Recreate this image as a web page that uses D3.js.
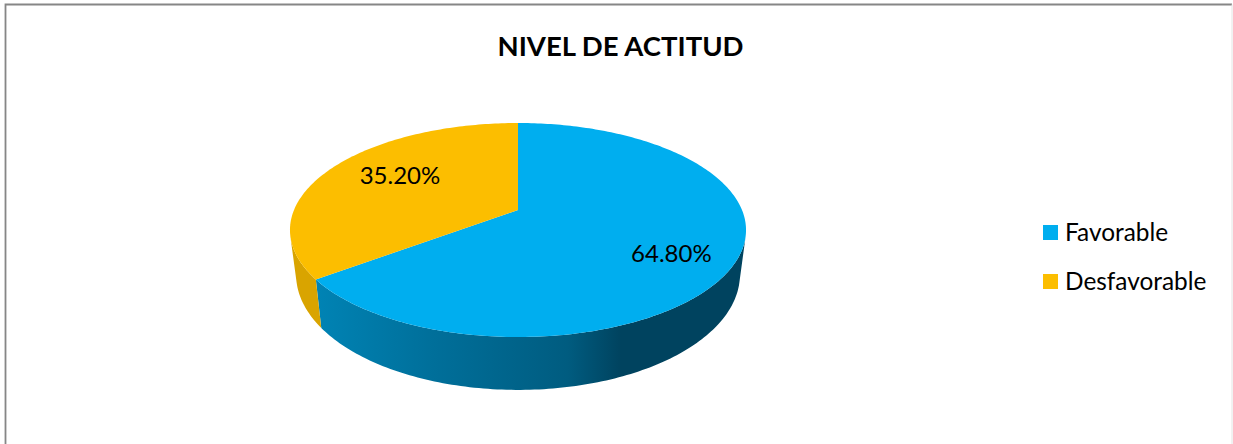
<!DOCTYPE html>
<html><head><meta charset="utf-8">
<script src="https://cdn.jsdelivr.net/npm/d3@7"></script>
<style>html,body{margin:0;padding:0;background:#fff}svg{display:block}text{font-family:Lato,"Open Sans",sans-serif;fill:#000}</style>
</head><body><svg id="c" width="1233" height="444"></svg>
<script>
const categories = ["Favorable", "Desfavorable"];
const values = [64.8, 35.2];
const valueLabels = ["64.80%", "35.20%"];
const topColors = ["#00AEEF", "#FCBE00"];
const sideStops = [
  [["#0086B8", 0], ["#006F9A", .3], ["#005C80", .6], ["#00435F", .72], ["#00435F", 1]],
  [["#D9A400", 0], ["#D9A400", 1]]
];

const svg = d3.select("#c");
const W = 1233, H = 444;

// frame
svg.append("path").attr("d", `M5.5 ${H}V4.5H${W - 1}`).attr("fill", "none").attr("stroke", "#868686").attr("stroke-width", 1.8);
svg.append("path").attr("d", `M${W - 1} 4.5V${H}`).attr("fill", "none").attr("stroke", "#E4E4E4").attr("stroke-width", 1);

svg.append("text").attr("x", 620.5).attr("y", 55.5).attr("text-anchor", "middle")
  .attr("font-size", 27.5).attr("font-weight", 700).text("NIVEL DE ACTITUD");

// perspective projection of the pie disc
const k = 0.187, cx = 518;
const planes = { top: { A: 210, B: -64, R: 224 }, bottom: { A: 253, B: -64, R: 218 } };
function project(angle, plane, f = 1) {
  const u = Math.sin(angle) * f, v = Math.cos(angle) * f, w = 1 + k * v;
  return [cx + plane.R * u / w, (plane.A + plane.B * v) / w];
}

const arcs = d3.pie().sort(null).value(d => d)(values);
const line = d3.line();
const defs = svg.append("defs");
const x0 = 300, x1 = 746;

arcs.forEach((a, i) => {
  const g = defs.append("linearGradient").attr("id", "side" + i)
    .attr("gradientUnits", "userSpaceOnUse").attr("x1", x0).attr("x2", x1).attr("y1", 0).attr("y2", 0);
  sideStops[i].forEach(s => g.append("stop").attr("offset", s[1]).attr("stop-color", s[0]));
});

// side wall: the outward-facing quads of each slice, joined into one path
const step = Math.PI / 180;
arcs.forEach((a, i) => {
  const n = Math.ceil((a.endAngle - a.startAngle) / step);
  const ang = d3.range(n + 1).map(j => a.startAngle + (a.endAngle - a.startAngle) * j / n);
  const quads = d3.pairs(ang)
    .map(([p, q]) => [project(p, planes.top), project(q, planes.top), project(q, planes.bottom), project(p, planes.bottom)])
    .filter(poly => d3.polygonArea(poly) > 0);
  svg.append("path").attr("d", quads.map(poly => line(poly) + "Z").join(""))
    .attr("fill", `url(#side${i})`);
});

// top faces
arcs.forEach((a, i) => {
  const n = Math.ceil((a.endAngle - a.startAngle) / step);
  const pts = d3.range(n + 1).map(j => project(a.startAngle + (a.endAngle - a.startAngle) * j / n, planes.top));
  svg.append("path").attr("d", line([project(0, planes.top, 0), ...pts]) + "Z").attr("fill", topColors[i]);
});

// value labels
const labelFraction = [0.72, 0.62], labelShift = [7.5, -8.5];
arcs.forEach((a, i) => {
  const [x, y] = project((a.startAngle + a.endAngle) / 2, planes.top, labelFraction[i]);
  svg.append("text").attr("x", x).attr("y", y + labelShift[i]).attr("text-anchor", "middle")
    .attr("dominant-baseline", "central").attr("font-size", 24).text(valueLabels[i]);
});

// legend
const legendY = d3.scalePoint().domain(categories).range([232.5, 281.5]);
categories.forEach((c, i) => {
  svg.append("rect").attr("x", 1043).attr("y", legendY(c) - 7.5).attr("width", 15).attr("height", 15).attr("fill", topColors[i]);
  svg.append("text").attr("x", 1065).attr("y", legendY(c) + 8.5).attr("font-size", 24.4).text(c);
});
</script></body></html>
